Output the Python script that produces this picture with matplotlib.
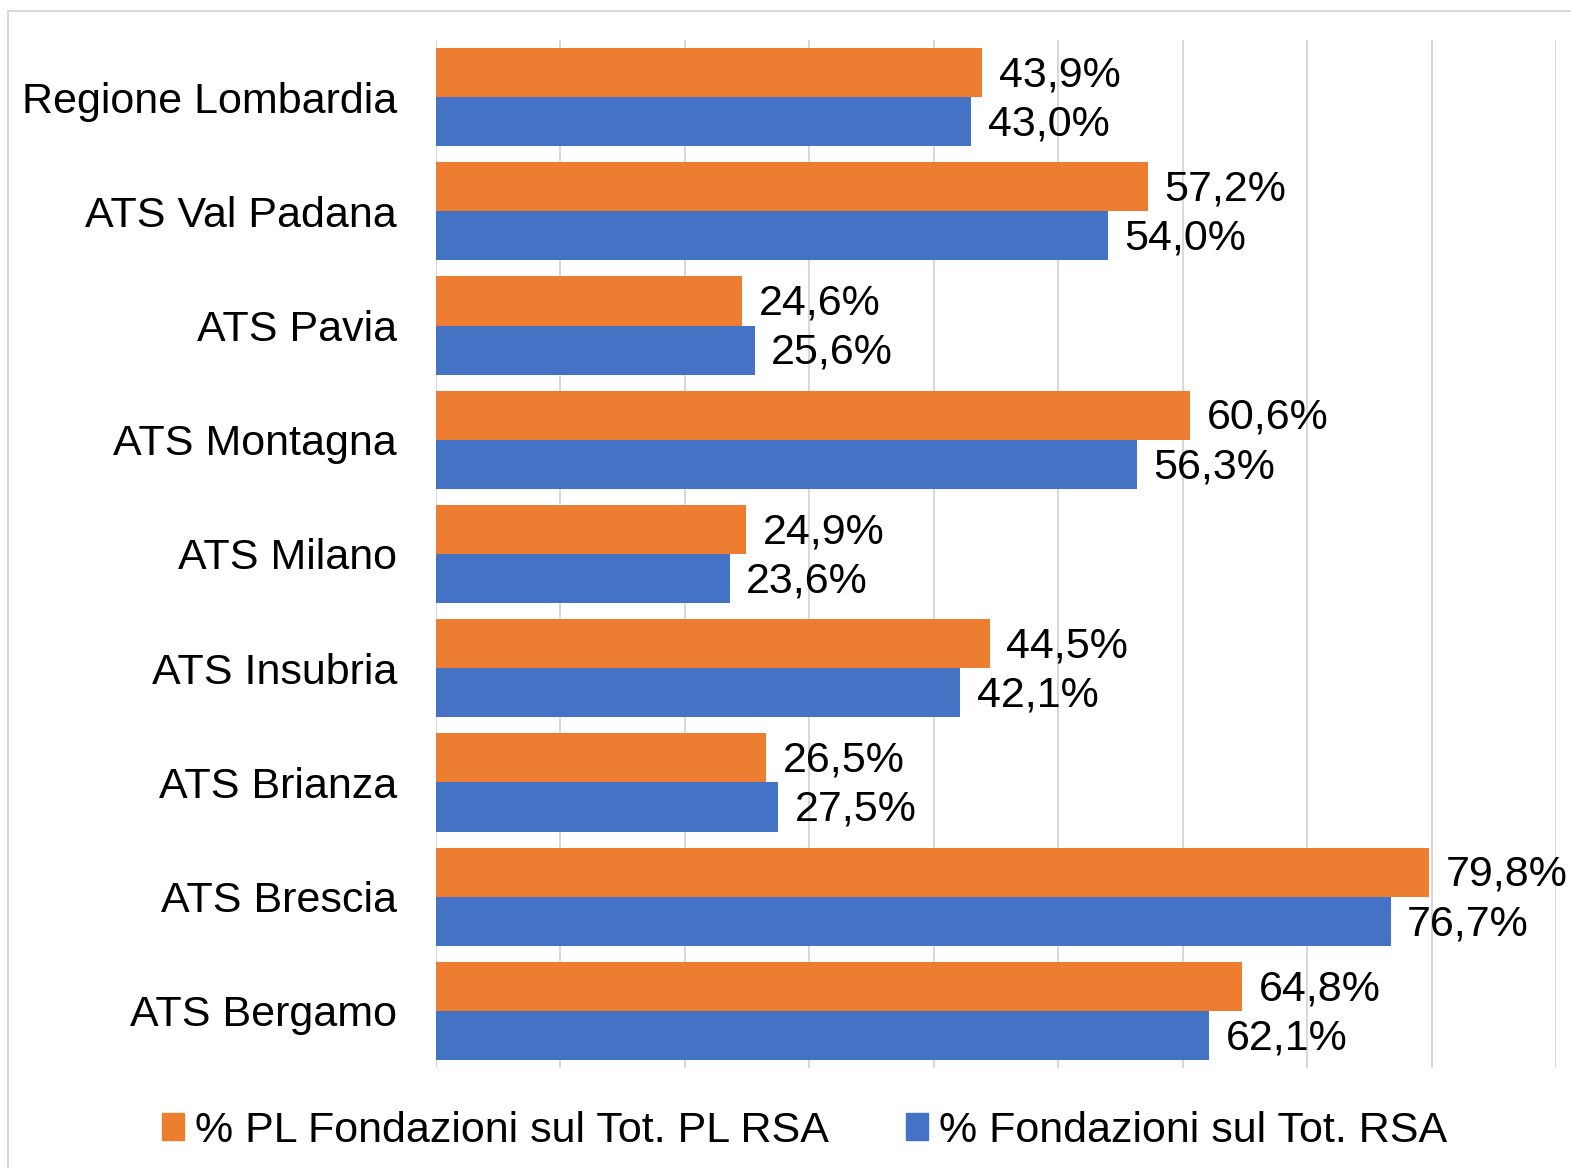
import matplotlib
matplotlib.use("Agg")
import matplotlib.pyplot as plt
import numpy as np
from matplotlib.patches import Patch, Rectangle

plt.rcParams["font.family"] = ["Liberation Sans", "DejaVu Sans"]

# data (percent)
categories = [
    "Regione Lombardia", "ATS Val Padana", "ATS Pavia", "ATS Montagna",
    "ATS Milano", "ATS Insubria", "ATS Brianza", "ATS Brescia", "ATS Bergamo",
]
pl_fondazioni = [43.9, 57.2, 24.6, 60.6, 24.9, 44.5, 26.5, 79.8, 64.8]
rsa_fondazioni = [43.0, 54.0, 25.6, 56.3, 23.6, 42.1, 27.5, 76.7, 62.1]
series_names = ["% PL Fondazioni sul Tot. PL RSA", "% Fondazioni sul Tot. RSA"]

ORANGE = "#ED7D31"
BLUE = "#4472C4"
GRID = "#D9D9D9"
FS = 31

fig = plt.figure(figsize=(15.71, 11.68), dpi=100)
ax = fig.add_axes([0.2775, 0.0856, 0.713, 0.8802])

y = np.arange(len(categories))
h = 0.43
b1 = ax.barh(y - h / 2, pl_fondazioni, height=h, color=ORANGE, zorder=3)
b2 = ax.barh(y + h / 2, rsa_fondazioni, height=h, color=BLUE, zorder=3)

fmt = lambda v: f"{v:.1f}%".replace(".", ",")
for bars, vals in ((b1, pl_fondazioni), (b2, rsa_fondazioni)):
    for t in ax.bar_label(bars, labels=[fmt(v) for v in vals], padding=12, fontsize=FS):
        t.set_y(-2)

ax.set_xlim(0, 90)
ax.set_ylim(len(categories) - 0.5, -0.5)
ax.set_xticks(range(0, 91, 10))
ax.set_xticklabels([])
ax.set_yticks(y)
ax.set_yticklabels(categories, fontsize=FS)
ax.tick_params(axis="y", length=0, pad=28)
ax.tick_params(axis="x", length=0)
ax.grid(axis="x", color=GRID, linewidth=1.5, zorder=0)
for s in ax.spines.values():
    s.set_visible(False)

handles = [Patch(color=ORANGE), Patch(color=BLUE)]
fig.legend(handles, series_names, loc="center", bbox_to_anchor=(0.512, 0.032),
           ncol=2, frameon=False, fontsize=FS, handlelength=0.52,
           handleheight=0.57, handletextpad=0.24, columnspacing=1.8)

# outer chart border
fig.patches.append(Rectangle((8 / 1571, -0.05), 1.2, 1 - 11 / 1168 + 0.05,
                             transform=fig.transFigure, fill=False,
                             edgecolor=GRID, linewidth=1.5))

fig.savefig("out.png", dpi=100)
